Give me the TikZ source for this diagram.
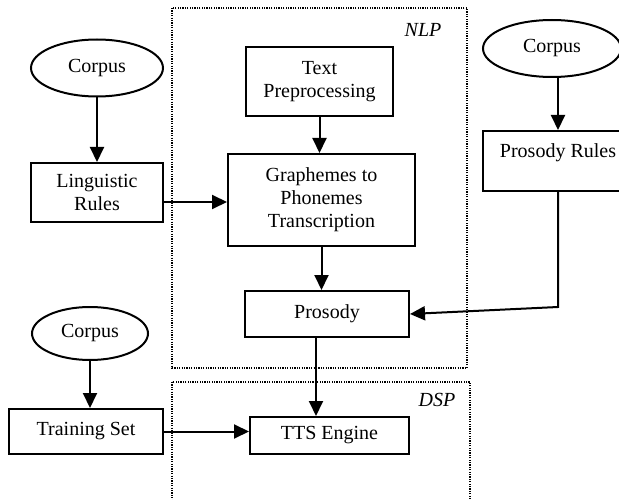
\documentclass[tikz,border=0pt]{standalone}
\usepackage{fontspec}
\setmainfont{Liberation Serif}
\usetikzlibrary{arrows.meta,
                positioning,
                shapes.geometric}

\begin{document}
\begin{tikzpicture}[x=1pt, y=-1pt,
  font=\fontsize{20}{23}\selectfont,
   BOX/.style = {draw, line width=2pt, align=center, inner sep=0pt},
   ELL/.style = {draw, ellipse, line width=2pt, inner sep=0pt},
   DOT/.style = {line width=1.2pt, dash pattern=on 1.2pt off 1.2pt},% frames
   ARR/.style = {line width=2pt, -{Triangle[length=15pt, width=14pt]}},
   LBL/.style = {font=\fontsize{20}{23}\selectfont\itshape}
                        ]
\useasboundingbox (0,0) rectangle (619,500);
\clip (0,0) rectangle (619,500);
% NLP and DSP frames
\draw[DOT] (172,8) rectangle (467,368);
\draw[DOT] (172,382) rectangle (470,510);
\node (nlp) [LBL] at (423,30) {NLP};
\node (dsp) [LBL] at (437,400) {DSP};
% left column
\node (cor1) [ELL, minimum width=132pt, minimum height=57pt] at (97,68) {Corpus};
\node (ling) [BOX, minimum width=132pt, minimum height=59pt] at (97,192.5) {\raisebox{-4pt}{Linguistic}\\\raisebox{-4pt}{Rules}};
\node (cor3) [ELL, minimum width=116pt, minimum height=53pt] at (90,333.5) {Corpus};
\node (trs)  [BOX, minimum width=154pt, minimum height=45pt] at (86,431.5) {Training Set};
% middle column
\node (tpre) [BOX, minimum width=147pt, minimum height=69pt] at (319.5,81.5) {Text\\Preprocessing};
\node (g2p)  [BOX, minimum width=187pt, minimum height=92pt] at (321.5,200) {Graphemes to\\Phonemes\\Transcription};
\node (pros) [BOX, minimum width=164pt, minimum height=46pt] at (327,314) {Prosody};
\node (tts)  [BOX, minimum width=159pt, minimum height=37pt] at (329.5,435.5) {TTS Engine};
% right column
\node (cor2) [ELL, minimum width=138pt, minimum height=57pt] at (552,48.5) {Corpus};
\node (prul) [BOX, minimum width=150pt, minimum height=60pt, text depth=20pt] at (558,161) {Prosody Rules};
\coordinate (turn) at (558,307);
% arrows
\draw[ARR] (cor1) -- (ling);
\draw[ARR] ([yshift=-9.5pt]ling.east) -- ([yshift=-9.5pt]ling.east -| g2p.west);
\draw[ARR] (tpre.south) -- (tpre.south |- g2p.north);
\draw[ARR] (g2p.south) -- (g2p.south |- pros.north);
\draw[ARR] (prul.north |- cor2.south) -- (prul.north);
\draw[ARR] (prul.south) -- (turn) -- (pros.east);
\draw[ARR] ([xshift=-11pt]pros.south) -- ([xshift=-11pt]pros.south |- tts.north);
\draw[ARR] (cor3.south) -- (cor3.south |- trs.north);
\draw[ARR] (trs.east) -- (trs.east -| tts.west);
\end{tikzpicture}
\end{document}
